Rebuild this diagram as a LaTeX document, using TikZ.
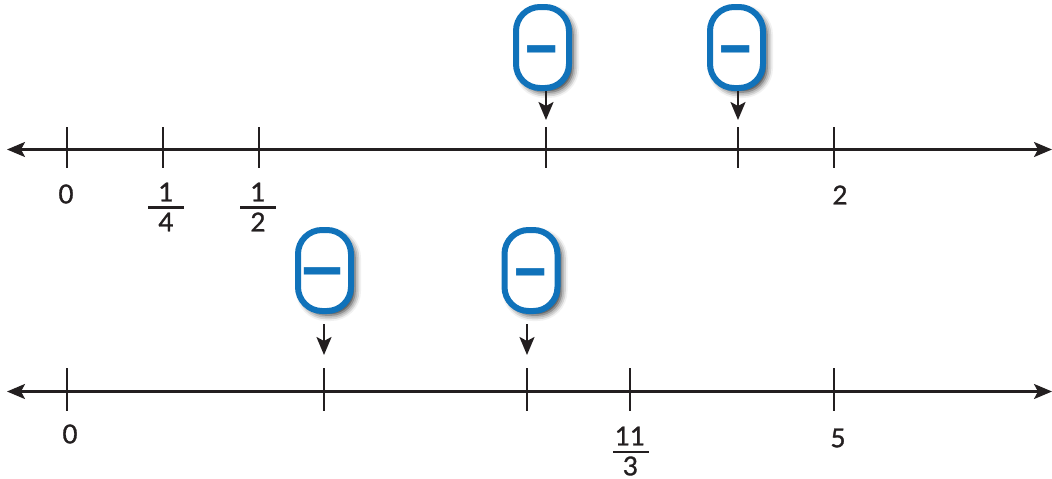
\documentclass[tikz,border=0pt]{standalone}
\usepackage{fontspec}
\usepackage{graphicx}
\setmainfont{Lato}
\newfontfamily\digitfont{Lato}[FakeBold=1.2]
\usetikzlibrary{arrows.meta,shadows.blur}
\definecolor{ink}{HTML}{231F20}
\definecolor{pillblue}{HTML}{1072BA}
\tikzset{
  axisline/.style={draw=ink,line width=2.4pt,{Stealth[length=18pt,width=15pt,inset=4pt]}-{Stealth[length=18pt,width=15pt,inset=4pt]}},
  tickline/.style={draw=ink,line width=2.4pt},
  pointer/.style={draw=ink,line width=2.4pt,-{Stealth[length=18pt,width=15pt,inset=4pt]}},
  pill/.style={draw=pillblue,line width=6pt,fill=white,rounded corners=24pt,minimum width=53pt,minimum height=81pt,inner sep=0pt,
    blur shadow={shadow xshift=4pt,shadow yshift=-4pt,shadow blur radius=6pt,shadow opacity=85}},
  minussign/.style={text=pillblue,font=\fontsize{48}{48}\selectfont\bfseries,inner sep=0pt,anchor=base},
  numlabel/.style={text=ink,font=\fontsize{26}{26}\selectfont\digitfont,inner sep=0pt},
  fracbar/.style={draw=ink,line width=2.2pt}
}
\begin{document}
\begin{tikzpicture}[x=1pt,y=-1pt]
\useasboundingbox (0,0) rectangle (1052,479);
% axes
\coordinate (al1) at (7,149.5); \coordinate (ar1) at (1052,149.5);
\coordinate (al2) at (7,391.5); \coordinate (ar2) at (1052,391.5);
\draw[axisline] (al1) -- (ar1);
\draw[axisline] (al2) -- (ar2);
% ticks top
\foreach \n/\x in {a/67,b/163,c/259,d/546,e/738,f/834}{
  \coordinate (t\n) at (\x,127); \coordinate (u\n) at (\x,168);
  \draw[tickline] (t\n) -- (u\n);
}
% ticks bottom
\foreach \n/\x in {g/67,h/324,i/527,j/630,k/834}{
  \coordinate (t\n) at (\x,368); \coordinate (u\n) at (\x,411);
  \draw[tickline] (t\n) -- (u\n);
}
% pills
\node[pill] (p1) at (542.5,47.5) {};
\node[pill] (p2) at (736.5,47.5) {};
\node[pill] (p3) at (324.5,270.5) {};
\node[pill] (p4) at (531,270.5) {};
% minus signs
\node[minussign] (m1) at (542,74.5) {\scalebox{1.45}[1.75]{–}};
\node[minussign] (m2) at (736,74.5) {\scalebox{1.45}[1.75]{–}};
\node[minussign] (m3) at (323,296) {\scalebox{1.87}[1.75]{–}};
\node[minussign] (m4) at (530.5,297.5) {\scalebox{1.45}[1.75]{–}};
% pointers
\coordinate (s1) at (546,91); \coordinate (e1) at (546,120);
\coordinate (s2) at (738,91); \coordinate (e2) at (738,120);
\coordinate (s3) at (324,324); \coordinate (e3) at (324,355);
\coordinate (s4) at (527,324); \coordinate (e4) at (527,355);
\draw[pointer] (s1) -- (e1);
\draw[pointer] (s2) -- (e2);
\draw[pointer] (s3) -- (e3);
\draw[pointer] (s4) -- (e4);
% labels top
\node[numlabel] (l0) at (66,194) {0};
\node[numlabel] (n1) at (166,192) {1};
\coordinate (b1a) at (148,207.5); \coordinate (b1b) at (184,207.5);
\draw[fracbar] (b1a) -- (b1b);
\node[numlabel] (d1) at (166,222) {4};
\node[numlabel] (n2) at (258,192) {1};
\coordinate (b2a) at (240,207.5); \coordinate (b2b) at (276,207.5);
\draw[fracbar] (b2a) -- (b2b);
\node[numlabel] (d2) at (258,222) {2};
\node[numlabel] (l2) at (840,195) {2};
% labels bottom
\node[numlabel] (l3) at (70,434) {0};
\node[numlabel] (n3) at (630,436) {11};
\coordinate (b3a) at (613,452); \coordinate (b3b) at (649,452);
\draw[fracbar] (b3a) -- (b3b);
\node[numlabel] (d3) at (630.5,466) {3};
\node[numlabel] (l5) at (838,438) {5};
\end{tikzpicture}
\end{document}
